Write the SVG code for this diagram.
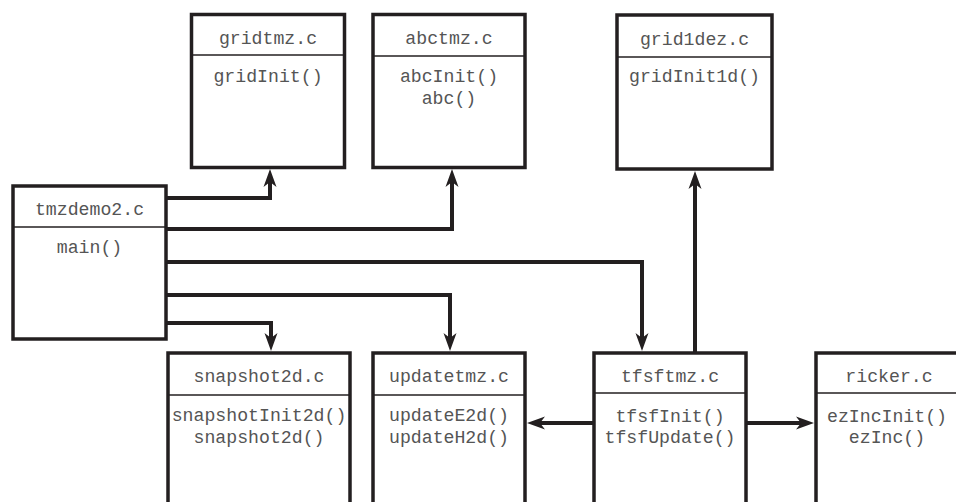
<svg xmlns="http://www.w3.org/2000/svg" width="956" height="502" viewBox="0 0 956 502">
<style>
.box{fill:#fff;stroke:#231f20;stroke-width:3.5}
.div{stroke:#231f20;stroke-width:1.5}
.t{font-family:"Liberation Mono","Courier New",monospace;font-size:18.2px;fill:#555;text-anchor:middle}
.c{fill:none;stroke:#231f20;stroke-width:4;marker-end:url(#ah)}
</style>
<defs>
<marker id="ah" markerUnits="userSpaceOnUse" viewBox="-10 -7 20 14" markerWidth="20" markerHeight="14" refX="0" refY="0" orient="auto" overflow="visible">
<path d="M9,0 L-9,-6.5 L-4,0 L-9,6.5 Z" fill="#231f20"/>
</marker>
</defs>
<rect width="956" height="502" fill="#fff"/>
<g id="connectors">
<path class="c" d="M167,198 H270 V178"/>
<path class="c" d="M167,229 H452 V178"/>
<path class="c" d="M167,262 H642 V342"/>
<path class="c" d="M167,295 H450 V342"/>
<path class="c" d="M167,323 H271 V342"/>
<path class="c" d="M695,352 V180"/>
<path class="c" d="M593,423 H536"/>
<path class="c" d="M747,423 H805"/>
</g>
<g id="gridtmz">
<rect class="box" x="191.5" y="14.5" width="153" height="153"/>
<line class="div" x1="191.5" y1="55" x2="344.5" y2="55"/>
<text class="t" x="268" y="44">gridtmz.c</text>
<text class="t" x="268" y="82">gridInit()</text>
</g>
<g id="abctmz">
<rect class="box" x="373" y="14.5" width="152" height="153"/>
<line class="div" x1="373" y1="56" x2="525" y2="56"/>
<text class="t" x="449" y="44">abctmz.c</text>
<text class="t" x="449" y="82">abcInit()</text>
<text class="t" x="449" y="104">abc()</text>
</g>
<g id="grid1dez">
<rect class="box" x="617" y="15" width="155" height="154"/>
<line class="div" x1="617" y1="57" x2="772" y2="57"/>
<text class="t" x="694.5" y="45">grid1dez.c</text>
<text class="t" x="694.5" y="82">gridInit1d()</text>
</g>
<g id="tmzdemo2">
<rect class="box" x="13" y="186" width="153" height="153"/>
<line class="div" x1="13" y1="227" x2="166" y2="227"/>
<text class="t" x="89.5" y="215">tmzdemo2.c</text>
<text class="t" x="89.5" y="253">main()</text>
</g>
<g id="snapshot2d">
<rect class="box" x="168" y="353" width="182" height="170"/>
<line class="div" x1="168" y1="395" x2="350" y2="395"/>
<text class="t" x="259" y="382">snapshot2d.c</text>
<text class="t" x="259" y="421">snapshotInit2d()</text>
<text class="t" x="259" y="443">snapshot2d()</text>
</g>
<g id="updatetmz">
<rect class="box" x="373" y="353" width="152" height="170"/>
<line class="div" x1="373" y1="395" x2="525" y2="395"/>
<text class="t" x="449" y="382">updatetmz.c</text>
<text class="t" x="449" y="421">updateE2d()</text>
<text class="t" x="449" y="443">updateH2d()</text>
</g>
<g id="tfsftmz">
<rect class="box" x="594" y="353" width="152" height="170"/>
<line class="div" x1="594" y1="393" x2="746" y2="393"/>
<text class="t" x="670" y="382">tfsftmz.c</text>
<text class="t" x="670" y="422">tfsfInit()</text>
<text class="t" x="670" y="443">tfsfUpdate()</text>
</g>
<g id="ricker">
<rect class="box" x="816" y="353" width="170" height="170"/>
<line class="div" x1="816" y1="393" x2="986" y2="393"/>
<text class="t" x="889" y="382">ricker.c</text>
<text class="t" x="887" y="422">ezIncInit()</text>
<text class="t" x="887" y="443">ezInc()</text>
</g>
</svg>
